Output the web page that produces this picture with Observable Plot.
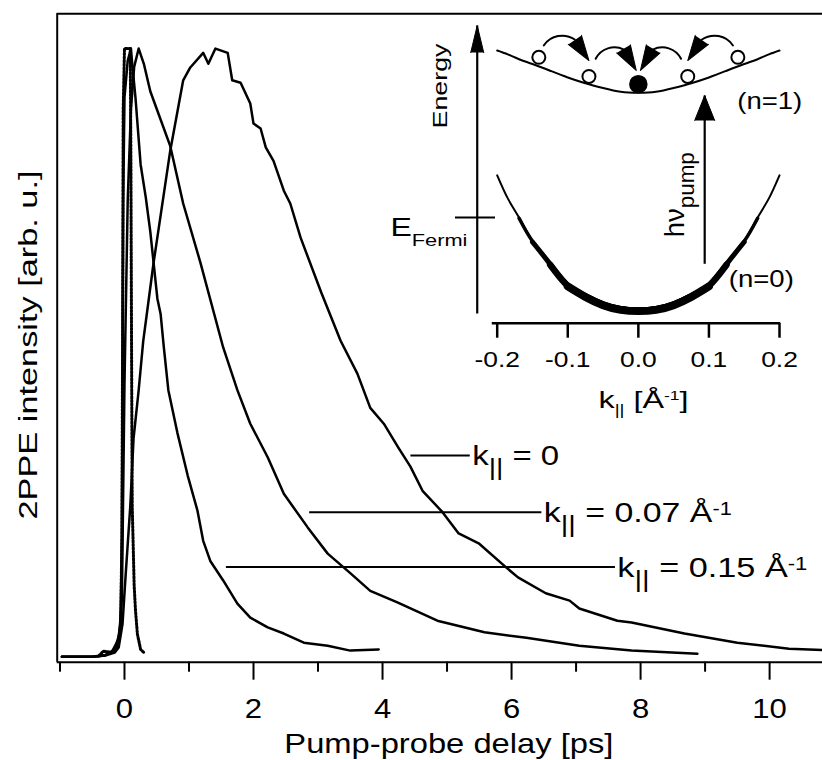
<!DOCTYPE html>
<html><head><meta charset="utf-8">
<script src="https://cdn.jsdelivr.net/npm/d3@7"></script>
<script src="https://cdn.jsdelivr.net/npm/@observablehq/plot@0.6"></script>
<style>
html,body{margin:0;padding:0;background:#fff;overflow:hidden}
#wrap{position:relative;width:822px;height:760px}
#wrap svg{position:absolute;left:0;top:0}
#wrap text{font-family:"Liberation Sans",Arial,Helvetica,sans-serif}
</style></head><body><div id="wrap"></div>
<script>
// ---------- main panel: 2PPE intensity vs pump-probe delay ----------
const delayDomain = [-1.043, 10.82];
const intensityDomain = [-0.006, 1.057];
const majorTicks = [0, 2, 4, 6, 8, 10];
const minorTicks = [-1, 1, 3, 5, 7, 9];
const xTitle = "Pump-probe delay [ps]";
const yTitle = "2PPE intensity [arb. u.]";

// laser cross-correlation (dotted)
const delayXcorr = [-0.4,-0.33,-0.2,-0.1,-0.06,-0.04,-0.03,-0.02,0.0,0.05,0.09,0.1,0.11,0.12,0.15,0.17,0.2,0.25,0.3];
const intensityXcorr = [0.004,0.012,0.01,0.02,0.05,0.2,0.5,0.9,1.0,1.0,1.0,0.8,0.5,0.25,0.12,0.08,0.04,0.015,0.01];

// k|| = 0.15 Å-1
const delayFast = [-0.97,-0.5,-0.3,-0.2,-0.1,-0.06,-0.04,-0.03,-0.02,0.0,0.05,0.1,0.12,0.17,0.25,0.33,0.40,0.51,0.56,0.61,0.68,0.82,0.98,1.13,1.22,1.33,1.53,1.75,1.95,2.22,2.47,2.78,3.15,3.5,3.94];
const intensityFast = [0.003,0.003,0.006,0.01,0.03,0.06,0.2,0.45,0.75,0.92,0.98,1.0,0.975,0.92,0.81,0.756,0.70,0.59,0.565,0.51,0.44,0.37,0.30,0.243,0.193,0.16,0.128,0.09,0.067,0.051,0.041,0.026,0.021,0.013,0.015];

// k|| = 0.07 Å-1
const delayMid = [-0.97,-0.5,-0.3,-0.15,-0.08,-0.04,0.0,0.05,0.1,0.15,0.22,0.30,0.40,0.51,0.71,0.91,1.18,1.53,1.75,1.95,2.22,2.47,2.84,3.15,3.5,3.81,4.23,4.85,5.58,6.23,7.05,7.86,8.88];
const intensityMid = [0.003,0.003,0.005,0.015,0.04,0.1,0.45,0.75,0.9,0.97,1.0,0.975,0.93,0.898,0.84,0.746,0.648,0.51,0.44,0.385,0.33,0.27,0.215,0.172,0.14,0.111,0.092,0.062,0.043,0.034,0.021,0.013,0.008];

// k|| = 0
const delaySlow = [-0.97,-0.5,-0.3,-0.15,-0.09,-0.03,0.02,0.09,0.14,0.22,0.29,0.45,0.71,0.91,1.02,1.22,1.30,1.41,1.60,1.67,1.80,1.95,2.0,2.11,2.19,2.31,2.47,2.57,2.73,3.05,3.35,3.61,3.81,4.02,4.25,4.43,4.62,4.93,5.18,5.49,5.92,6.1,6.53,6.9,7.05,7.64,7.86,8.68,9.5,10.3,10.82];
const intensitySlow = [0.003,0.003,0.005,0.01,0.018,0.057,0.14,0.25,0.36,0.44,0.52,0.648,0.833,0.948,0.969,0.993,0.975,1.0,0.993,0.948,0.944,0.91,0.877,0.869,0.838,0.816,0.767,0.746,0.69,0.60,0.521,0.467,0.411,0.385,0.345,0.315,0.275,0.24,0.205,0.189,0.149,0.133,0.107,0.095,0.082,0.062,0.059,0.041,0.026,0.016,0.014];

// legend
const legendLabels = ["k|| = 0", "k|| = 0.07 Å-1", "k|| = 0.15 Å-1"];
const legendY = [0.333, 0.240, 0.150];
const legendX1 = [4.44, 2.87, 1.58];
const legendX2 = [5.36, 6.47, 7.61];
const legendTextX = [5.39, 6.50, 7.64];

// ---------- inset: band scheme ----------
const insetKDomain = [-0.2, 0.2];
const insetEDomain = [-0.1, 3.0];
const insetTicks = [-0.2, -0.1, 0.0, 0.1, 0.2];
const bandK  = [-0.2,-0.185,-0.169,-0.15,-0.125,-0.1,-0.075,-0.05,-0.025,0,0.025,0.05,0.075,0.1,0.125,0.15,0.169,0.185,0.2];
const bandE0 = [1.44,1.20,1.0,0.76,0.53,0.31,0.20,0.115,0.066,0.053,0.066,0.115,0.20,0.31,0.53,0.76,1.0,1.20,1.44];
const bandE1 = [2.74,2.70,2.65,2.60,2.53,2.46,2.40,2.35,2.31,2.30,2.31,2.35,2.40,2.46,2.53,2.60,2.65,2.70,2.74];
const fermiE = 1.0;
const fermiK = [-0.2591, -0.2024];
const openK = [-0.141, -0.07, 0.07, 0.141];
const openE = [2.67, 2.47, 2.47, 2.67];
const filledK = [0.0];
const filledE = [2.39];
const hopStartK = [-0.134, -0.0605, 0.0605, 0.134];
const hopStartE = [2.793, 2.654, 2.654, 2.793];
const hopEndK = [-0.0901, -0.0204, 0.0204, 0.0901];
const hopEndE = [2.855, 2.749, 2.749, 2.855];
const hopTipK = [-0.070, -0.003, 0.003, 0.070];
const hopTipE = [2.636, 2.533, 2.533, 2.636];
const hopAngle = [145.7, 149.4, 210.6, 214.3];
const arrowK = [-0.2283, 0.094];
const arrowFromE = [0.0, 0.519];
const arrowToE = [3.0, 2.272];
const insetLabels = ["Energy", "E_Fermi", "hν_pump", "(n=1)", "(n=0)", "k|| [Å-1]"];
const insetLabelK = [-0.2709, -0.3513, 0.0644, 0.1401, 0.1282, 0.0073];
const insetLabelE = [2.371, 0.813, 0.796, 2.133, 0.275, -0.9875];

const FONT = '"Liberation Sans", Arial, Helvetica, sans-serif';
const pts = (xs, ys) => xs.map((x, i) => ({x, y: ys[i]}));
const lineOpts = {x: "x", y: "y", stroke: "black", strokeWidth: 2.5, strokeLinejoin: "round"};

const main = Plot.plot({
  width: 822, height: 760,
  marginLeft: 56.7, marginRight: 0, marginTop: 13.3, marginBottom: 98.3,
  x: {domain: delayDomain},
  y: {domain: intensityDomain, axis: null},
  style: {fontFamily: FONT, background: "transparent"},
  marks: [
    Plot.line(pts(delayXcorr, intensityXcorr), {x: "x", y: "y", stroke: "black", strokeWidth: 3, strokeDasharray: "2,1.6"}),
    Plot.line(pts(delayFast, intensityFast), lineOpts),
    Plot.line(pts(delayMid, intensityMid), lineOpts),
    Plot.line(pts(delaySlow, intensitySlow), lineOpts),
    Plot.ruleY(legendY, {x1: legendX1, x2: legendX2, stroke: "black", strokeWidth: 2}),
    Plot.text(legendLabels, {x: legendTextX, y: legendY, text: d => d, textAnchor: "start", lineAnchor: "bottom", dy: 10, fontSize: 28, fill: "black"}),
    Plot.ruleX([delayDomain[0]], {stroke: "black", strokeWidth: 2}),
    Plot.ruleY(intensityDomain, {stroke: "black", strokeWidth: 2}),
    Plot.axisX(majorTicks, {tickSize: 18, tickPadding: 19, fontSize: 27, strokeWidth: 2, label: null, fill: "black"}),
    Plot.axisX(minorTicks, {tickSize: 10, strokeWidth: 2, tickFormat: () => "", label: null}),
    Plot.text([xTitle], {frameAnchor: "bottom", textAnchor: "middle", lineAnchor: "bottom", dx: 9, dy: 90.3, fontSize: 28, text: d => d, fill: "black"}),
    Plot.text([yTitle], {frameAnchor: "left", textAnchor: "middle", rotate: -90, lineAnchor: "bottom", dx: -20.4, dy: 7, fontSize: 26, text: d => d, fill: "black"})
  ]
});

const band0 = pts(bandK, bandE0);
const band1 = pts(bandK, bandE1);
const idx4 = [0, 1, 2, 3];
const bandLine = (data, w, dy) => Plot.line(data, {x: "x", y: "y", curve: "natural", stroke: "black", strokeWidth: w, dy, strokeLinecap: "round"});

const inset = Plot.plot({
  width: 822, height: 760,
  marginLeft: 496.7, marginRight: 43, marginTop: 25.1, marginBottom: 437.3,
  x: {domain: insetKDomain},
  y: {domain: insetEDomain, axis: null},
  style: {fontFamily: FONT, background: "transparent"},
  marks: [
    Plot.ruleY([insetEDomain[0]], {x1: -0.207, x2: 0.2015, stroke: "black", strokeWidth: 2.5}),
    Plot.axisX(insetTicks, {tickSize: 15, tickPadding: 12.7, fontSize: 22, strokeWidth: 2.5, tickFormat: d => d.toFixed(1), label: null, fill: "black"}),
    // vertical arrows
    Plot.link({length: 2}, {x1: arrowK, x2: arrowK, y1: arrowFromE, y2: arrowToE, stroke: "black", strokeWidth: 2.2}),
    Plot.vector({length: 1}, {x: [arrowK[0]], y: [arrowToE[0]], length: 27, r: 6.5, rotate: 0, shape: "spike", anchor: "end", fill: "black", stroke: "black", strokeWidth: 1}),
    Plot.vector({length: 1}, {x: [arrowK[1]], y: [arrowToE[1]], length: 25, r: 10, rotate: 0, shape: "spike", anchor: "end", fill: "black", stroke: "black", strokeWidth: 1}),
    // Fermi level tick
    Plot.ruleY([fermiE], {x1: fermiK[0], x2: fermiK[1], stroke: "black", strokeWidth: 2}),
    // bands (occupied part of n=0 drawn thick, tapering)
    bandLine(band0, 2, 0),
    bandLine(band0.filter(d => d.y <= fermiE + 1e-9), 3.5, 0.7),
    bandLine(band0.filter(d => d.y <= 0.77), 5, 1.4),
    bandLine(band0.filter(d => d.y <= 0.54), 6.5, 2),
    bandLine(band0.filter(d => d.y <= 0.32), 8, 2.6),
    bandLine(band1, 2, 0),
    // hopping arrows
    Plot.arrow(idx4, {filter: i => i < 2, x1: i => hopStartK[i], y1: i => hopStartE[i], x2: i => hopEndK[i], y2: i => hopEndE[i], bend: 45, headLength: 0, stroke: "black", strokeWidth: 2}),
    Plot.arrow(idx4, {filter: i => i >= 2, x1: i => hopStartK[i], y1: i => hopStartE[i], x2: i => hopEndK[i], y2: i => hopEndE[i], bend: -45, headLength: 0, stroke: "black", strokeWidth: 2}),
    Plot.vector(idx4, {x: i => hopTipK[i], y: i => hopTipE[i], rotate: i => hopAngle[i], length: 25, r: 8, shape: "spike", anchor: "end", fill: "black", stroke: "black", strokeWidth: 1}),
    // electrons
    Plot.dot(pts(openK, openE), {x: "x", y: "y", r: 6.5, fill: "white", stroke: "black", strokeWidth: 2}),
    Plot.dot(pts(filledK, filledE), {x: "x", y: "y", r: 8.5, fill: "black", stroke: "black"}),
    // labels
    Plot.text([0], {x: [insetLabelK[0]], y: [insetLabelE[0]], text: [insetLabels[0]], rotate: -90, lineAnchor: "bottom", fontSize: 21, fill: "black"}),
    Plot.text([0], {x: [insetLabelK[1]], y: [insetLabelE[1]], text: [insetLabels[1]], textAnchor: "start", lineAnchor: "bottom", fontSize: 25, fill: "black"}),
    Plot.text([0], {x: [insetLabelK[2]], y: [insetLabelE[2]], text: [insetLabels[2]], rotate: -90, textAnchor: "start", lineAnchor: "bottom", fontSize: 27, fill: "black"}),
    Plot.text([0, 1], {x: i => insetLabelK[3 + i], y: i => insetLabelE[3 + i], text: i => insetLabels[3 + i], textAnchor: "start", lineAnchor: "bottom", fontSize: 24, fill: "black"}),
    Plot.text([0], {x: [insetLabelK[5]], y: [insetLabelE[5]], text: [insetLabels[5]], lineAnchor: "bottom", fontSize: 24, fill: "black"})
  ]
});

const wrap = document.getElementById("wrap");
wrap.appendChild(main);
wrap.appendChild(inset);

const rich = {
  "k|| = 0": {html: 'k<tspan font-size="24" dy="10">||</tspan><tspan dy="-10"> = 0</tspan>', len: 87},
  "k|| = 0.07 Å-1": {html: 'k<tspan font-size="24" dy="10">||</tspan><tspan dy="-10"> = 0.07 Å</tspan><tspan font-size="18" dy="-7">-1</tspan>', len: 188},
  "k|| = 0.15 Å-1": {html: 'k<tspan font-size="24" dy="10">||</tspan><tspan dy="-10"> = 0.15 Å</tspan><tspan font-size="18" dy="-7">-1</tspan>', len: 190},
  "k|| [Å-1]": {html: 'k<tspan font-size="14" dy="7">||</tspan><tspan dy="-7"> [Å</tspan><tspan font-size="13" dy="-8">-1</tspan><tspan dy="8">]</tspan>', len: 90},
  "E_Fermi": {html: 'E<tspan font-size="17" dy="10">Fermi</tspan>', len: 77},
  "hν_pump": {html: 'hν<tspan font-size="22" dy="10">pump</tspan>', len: 85},
  "Energy": {len: 85},
  "(n=1)": {len: 65},
  "(n=0)": {len: 65},
  "Pump-probe delay [ps]": {len: 329},
  "2PPE intensity [arb. u.]": {len: 349}
};
function stretch(svg, factor) {
  svg.querySelectorAll("text").forEach(t => {
    const key = t.textContent;
    if (!key) return;
    const spec = rich[key];
    if (spec && spec.html) t.innerHTML = spec.html;
    const len = spec ? spec.len : t.getComputedTextLength() * factor;
    t.setAttribute("textLength", len);
    t.setAttribute("lengthAdjust", "spacingAndGlyphs");
  });
}
stretch(main, 1.15);
stretch(inset, 1.2);
</script></body></html>
